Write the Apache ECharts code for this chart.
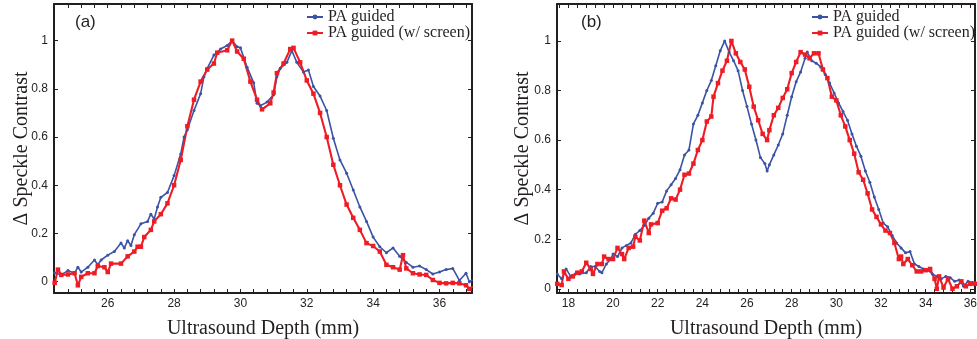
<!DOCTYPE html>
<html><head><meta charset="utf-8">
<script src="https://cdn.jsdelivr.net/npm/echarts@6/dist/echarts.min.js"></script>
<style>html,body{margin:0;padding:0;background:#fff}#c{width:977px;height:339px}</style>
</head><body><div id="c"></div>
<script>
// ---- Panel (a) ----
const depthA_blue = [24.4,24.6,24.8,25.0,25.1,25.2,25.4,25.6,25.7,25.8,26.0,26.2,26.4,26.5,26.6,26.7,26.8,27.0,27.2,27.3,27.4,27.5,27.6,27.8,28.0,28.2,28.3,28.4,28.6,28.8,28.9,29.0,29.2,29.4,29.6,29.75,29.9,30.0,30.2,30.4,30.5,30.6,30.8,31.0,31.1,31.2,31.4,31.55,31.7,31.9,32.05,32.2,32.4,32.6,32.8,33.0,33.2,33.4,33.6,33.8,34.0,34.2,34.4,34.6,34.8,35.0,35.2,35.4,35.6,35.8,36.0,36.2,36.4,36.6,36.8,36.9,37.0];
const contrastA_blue = [0.037,0.028,0.046,0.035,0.06,0.04,0.06,0.09,0.07,0.09,0.11,0.125,0.16,0.14,0.17,0.15,0.195,0.24,0.25,0.28,0.26,0.31,0.35,0.37,0.44,0.53,0.6,0.63,0.71,0.78,0.85,0.885,0.94,0.965,0.98,1.0,0.975,0.97,0.89,0.825,0.74,0.73,0.745,0.775,0.85,0.885,0.91,0.958,0.91,0.87,0.878,0.81,0.77,0.71,0.595,0.505,0.45,0.38,0.31,0.25,0.185,0.145,0.12,0.14,0.105,0.08,0.06,0.065,0.05,0.032,0.04,0.05,0.055,0.005,0.035,0.0,0.007];
const depthA_red = [24.4,24.5,24.6,24.8,25.0,25.1,25.2,25.4,25.6,25.7,25.9,26.0,26.1,26.4,26.6,26.8,26.9,27.0,27.1,27.3,27.4,27.6,27.8,28.0,28.2,28.4,28.6,28.8,29.0,29.2,29.3,29.6,29.75,29.9,30.1,30.3,30.5,30.65,30.9,31.0,31.1,31.3,31.5,31.6,31.8,32.0,32.2,32.4,32.6,32.8,33.0,33.2,33.4,33.6,33.8,34.0,34.2,34.4,34.6,34.8,34.9,35.0,35.2,35.4,35.6,35.8,36.0,36.2,36.4,36.6,36.8,36.9,37.0];
const contrastA_red = [-0.005,0.05,0.028,0.03,0.035,-0.015,0.02,0.035,0.035,0.065,0.06,0.04,0.075,0.075,0.105,0.125,0.145,0.145,0.185,0.215,0.25,0.28,0.325,0.4,0.505,0.645,0.755,0.83,0.88,0.905,0.95,0.96,1.0,0.955,0.925,0.83,0.755,0.715,0.74,0.785,0.865,0.905,0.965,0.97,0.91,0.835,0.78,0.7,0.6,0.485,0.4,0.32,0.265,0.215,0.16,0.148,0.125,0.07,0.06,0.05,0.11,0.055,0.035,0.03,0.028,0.007,-0.005,-0.007,-0.005,-0.007,-0.015,-0.03,-0.02];

// ---- Panel (b) ----
const depthB_blue = [17.5,17.7,17.9,18.1,18.3,18.5,18.8,19.0,19.2,19.4,19.5,19.7,19.9,20.0,20.2,20.4,20.6,20.8,21.0,21.2,21.4,21.6,21.8,22.0,22.2,22.4,22.6,22.8,23.0,23.2,23.4,23.6,23.8,24.0,24.2,24.4,24.6,24.8,25.0,25.2,25.4,25.6,25.8,26.0,26.2,26.4,26.6,26.8,26.9,27.0,27.2,27.4,27.6,27.8,28.0,28.2,28.4,28.6,28.7,28.9,29.1,29.3,29.5,29.7,29.9,30.1,30.3,30.5,30.7,30.9,31.1,31.3,31.5,31.7,31.9,32.1,32.3,32.5,32.7,32.9,33.1,33.3,33.5,33.7,33.9,34.1,34.3,34.5,34.7,34.9,35.1,35.3,35.5,35.7,35.9,36.1,36.2];
const contrastB_blue = [0.06,0.04,0.08,0.05,0.06,0.06,0.065,0.09,0.09,0.07,0.065,0.1,0.12,0.14,0.13,0.165,0.175,0.185,0.22,0.235,0.255,0.285,0.305,0.345,0.35,0.395,0.42,0.445,0.48,0.54,0.56,0.665,0.7,0.75,0.8,0.84,0.9,0.96,1.0,0.955,0.92,0.88,0.8,0.735,0.665,0.6,0.53,0.505,0.475,0.5,0.54,0.58,0.625,0.7,0.775,0.835,0.875,0.93,0.955,0.92,0.91,0.895,0.865,0.83,0.79,0.75,0.715,0.68,0.625,0.575,0.535,0.475,0.43,0.37,0.32,0.265,0.25,0.215,0.185,0.165,0.145,0.15,0.1,0.09,0.08,0.075,0.06,0.05,0.04,0.05,0.045,0.03,0.035,0.01,0.03,0.025,0.025];
const depthB_red = [17.5,17.7,17.8,18.0,18.2,18.4,18.6,18.8,19.0,19.1,19.3,19.5,19.6,19.8,20.0,20.2,20.4,20.5,20.7,20.9,21.0,21.2,21.4,21.6,21.7,22.0,22.2,22.4,22.6,22.8,23.0,23.2,23.4,23.6,23.8,24.0,24.2,24.4,24.5,24.7,24.9,25.1,25.3,25.5,25.7,25.9,26.1,26.3,26.5,26.7,26.9,27.0,27.2,27.4,27.6,27.8,28.0,28.2,28.4,28.6,28.8,29.0,29.2,29.4,29.6,29.8,30.0,30.2,30.4,30.6,30.8,31.0,31.2,31.4,31.6,31.8,32.0,32.2,32.4,32.6,32.8,32.9,33.0,33.2,33.4,33.6,33.8,34.0,34.2,34.4,34.5,34.6,34.8,35.0,35.2,35.4,35.6,35.8,36.0,36.2];
const contrastB_red = [0.02,0.015,0.07,0.04,0.05,0.065,0.07,0.105,0.08,0.06,0.1,0.1,0.13,0.12,0.12,0.165,0.14,0.12,0.165,0.17,0.21,0.195,0.275,0.225,0.26,0.265,0.315,0.325,0.365,0.36,0.4,0.46,0.465,0.505,0.56,0.6,0.675,0.695,0.775,0.83,0.88,0.92,1.0,0.95,0.915,0.885,0.815,0.735,0.68,0.625,0.6,0.64,0.7,0.73,0.77,0.805,0.87,0.915,0.955,0.945,0.93,0.95,0.95,0.885,0.85,0.775,0.76,0.7,0.655,0.6,0.545,0.47,0.44,0.385,0.32,0.29,0.26,0.235,0.225,0.185,0.12,0.13,0.1,0.12,0.095,0.07,0.07,0.075,0.08,0.04,0.0,0.05,0.005,0.04,0.0,0.01,0.03,0.01,0.02,0.02];

// ---- ticks ----
const yTicks = [0, 0.2, 0.4, 0.6, 0.8, 1];
const xLabelsA = [26, 28, 30, 32, 34, 36];
const xLabelsB = [18, 20, 22, 24, 26, 28, 30, 32, 34, 36];
const xMinorA = [24.4,24.8,25.2,25.6,26,26.4,26.8,27.2,27.6,28,28.4,28.8,29.2,29.6,30,30.4,30.8,31.2,31.6,32,32.4,32.8,33.2,33.6,34,34.4,34.8,35.2,35.6,36,36.4,36.8];
const xMinorB = [17.6,18,18.4,18.8,19.2,19.6,20,20.4,20.8,21.2,21.6,22,22.4,22.8,23.2,23.6,24,24.4,24.8,25.2,25.6,26,26.4,26.8,27.2,27.6,28,28.4,28.8,29.2,29.6,30,30.4,30.8,31.2,31.6,32,32.4,32.8,33.2,33.6,34,34.4,34.8,35.2,35.6,36];
const seriesNames = ['PA guided', 'PA guided (w/ screen)'];

const ink = '#231f20';
const blue = '#3a53a4';
const red = '#ee1c25';
const pair = (xs, ys) => xs.map((x, i) => [x, ys[i]]);

function xAxes(gi, min, max, labels, minor) {
  return [
    { type:'value', gridIndex:gi, position:'bottom', min, max,
      axisLine:{show:true, onZero:false, lineStyle:{color:ink, width:2}},
      axisTick:{show:true, inside:true, length:4, customValues:minor, lineStyle:{color:ink, width:1}},
      axisLabel:{show:true, customValues:labels, margin:5, color:ink, fontSize:12, fontFamily:'Liberation Sans'},
      splitLine:{show:false},
      name:'Ultrasound Depth (mm)', nameLocation:'middle', nameGap:26, nameMoveOverlap:false,
      nameTextStyle:{color:ink, fontSize:20, fontFamily:'Liberation Serif'} },
    { type:'value', gridIndex:gi, position:'top', min, max,
      axisLine:{show:true, onZero:false, lineStyle:{color:ink, width:2}},
      axisTick:{show:true, inside:true, length:4, customValues:minor, lineStyle:{color:ink, width:1}},
      axisLabel:{show:false}, splitLine:{show:false} }
  ];
}
function yAxes(gi, min, max, gap) {
  return [
    { type:'value', gridIndex:gi, position:'left', min, max,
      axisLine:{show:true, onZero:false, lineStyle:{color:ink, width:2}},
      axisTick:{show:true, inside:true, length:4, customValues:yTicks, lineStyle:{color:ink, width:1}},
      axisLabel:{show:true, customValues:yTicks, margin:6, color:ink, fontSize:12, fontFamily:'Liberation Sans'},
      splitLine:{show:false},
      name:'\u0394 Speckle Contrast', nameLocation:'middle', nameGap:gap, nameMoveOverlap:false,
      nameTextStyle:{color:ink, fontSize:20, fontFamily:'Liberation Serif'} },
    { type:'value', gridIndex:gi, position:'right', min, max,
      axisLine:{show:true, onZero:false, lineStyle:{color:ink, width:2}},
      axisTick:{show:true, inside:true, length:4, customValues:yTicks, lineStyle:{color:ink, width:1}},
      axisLabel:{show:false}, splitLine:{show:false} }
  ];
}
function mkSeries(xi, yi, xs, ys, which) {
  const isBlue = which === 0;
  return { type:'line', name:seriesNames[which], xAxisIndex:xi, yAxisIndex:yi,
    data: pair(xs, ys), showSymbol:true, symbol: isBlue ? 'circle' : 'rect',
    symbolSize: isBlue ? 3 : 4.5, animation:false,
    lineStyle:{color: isBlue ? blue : red, width: isBlue ? 1.6 : 2.1},
    itemStyle:{color: isBlue ? blue : red} };
}

const chart = echarts.init(document.getElementById('c'), null, {renderer:'canvas'});
chart.setOption({
  animation:false,
  backgroundColor:'#fff',
  grid:[
    {left:54, top:4, width:418, height:289, containLabel:false, outerBoundsMode:'none'},
    {left:557, top:4, width:418, height:289, containLabel:false, outerBoundsMode:'none'}
  ],
  xAxis:[...xAxes(0, 24.38, 36.98, xLabelsA, xMinorA), ...xAxes(1, 17.49, 36.21, xLabelsB, xMinorB)],
  yAxis:[...yAxes(0, -0.047, 1.152, 22), ...yAxes(1, -0.017, 1.149, 24)],
  title:[
    {text:'(a)', left:75, top:14, padding:0, textStyle:{fontSize:17, fontWeight:'normal', fontFamily:'Liberation Sans', color:ink}},
    {text:'(b)', left:581, top:14, padding:0, textStyle:{fontSize:17, fontWeight:'normal', fontFamily:'Liberation Sans', color:ink}}
  ],
  legend:[
    {data:seriesNames, left:306, top:9, orient:'vertical', padding:0, itemGap:0, itemWidth:16, itemHeight:6,
     textStyle:{color:ink, fontSize:16, fontFamily:'Liberation Serif', lineHeight:16}},
    {data:seriesNames, left:811, top:9, orient:'vertical', padding:0, itemGap:0, itemWidth:16, itemHeight:6,
     textStyle:{color:ink, fontSize:16, fontFamily:'Liberation Serif', lineHeight:16}}
  ],
  series:[
    mkSeries(0, 0, depthA_blue, contrastA_blue, 0),
    mkSeries(0, 0, depthA_red, contrastA_red, 1),
    mkSeries(2, 2, depthB_blue, contrastB_blue, 0),
    mkSeries(2, 2, depthB_red, contrastB_red, 1)
  ]
});
</script></body></html>
